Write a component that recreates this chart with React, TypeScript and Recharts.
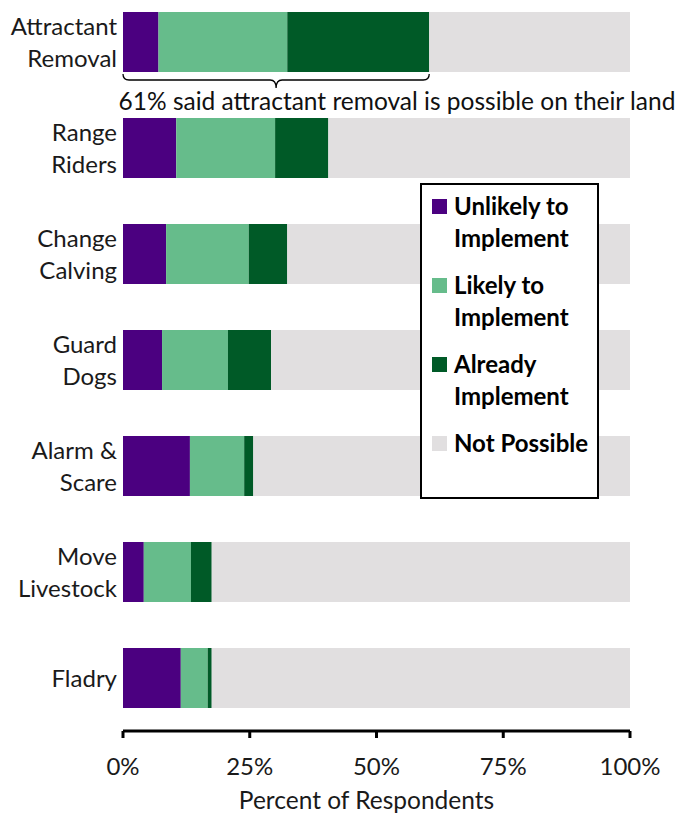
import { BarChart, Bar, XAxis, YAxis, LabelList } from 'recharts'

const categories = [
    'Attractant\nRemoval',
    'Range\nRiders',
    'Change\nCalving',
    'Guard\nDogs',
    'Alarm &\nScare',
    'Move\nLivestock',
    'Fladry',
]
const unlikely = [7.0, 10.5, 8.5, 7.7, 13.2, 4.1, 11.4]
const likely = [25.4, 19.5, 16.3, 13.0, 10.7, 9.3, 5.3]
const already = [28.0, 10.5, 7.6, 8.5, 1.8, 4.1, 0.8]
const notPossible = [39.6, 59.5, 67.6, 70.8, 74.3, 82.5, 82.5]
const xTicks = [0, 25, 50, 75, 100]
const note = '61% said attractant removal is possible on their land'

const series = [
    { key: 'unlikely', name: 'Unlikely to\nImplement', color: '#4b0080' },
    { key: 'likely', name: 'Likely to\nImplement', color: '#66bc8b' },
    { key: 'already', name: 'Already\nImplement', color: '#005a27' },
    { key: 'notPossible', name: 'Not Possible', color: '#e1dfe0' },
]

const data = categories.map((c, i) => ({
    name: c,
    unlikely: unlikely[i],
    likely: likely[i],
    already: already[i],
    notPossible: notPossible[i],
}))

const FONT = 'Lato, "Open Sans", sans-serif'

const CategoryTick = ({ x, y, payload }: any) => {
    const lines = String(payload.value).split('\n')
    const lh = 32
    const start = y - ((lines.length - 1) * lh) / 2
    return (
        <text x={x} y={start} textAnchor="end" fontFamily={FONT} fontSize={24} fill="#1a1a1a">
            {lines.map((l, i) => (
                <tspan key={i} x={x} y={start + i * lh} dy="0.36em">{l}</tspan>
            ))}
        </text>
    )
}

// brace + note under the first bar, sized from the bar segment the library drew
const BraceLabel = (props: any) => {
    const { x, y, width, height, index, value } = props
    if (index !== 0) return null
    const total = unlikely[0] + likely[0] + already[0]
    const x0 = Number(x)
    const x1 = x0 + (Number(width) / Number(value)) * total
    const top = Number(y) + Number(height) + 2
    const mid = (x0 + x1) / 2
    const r = 6
    const d = `M${x0},${top} q0,${r} ${r},${r} L${mid - r},${top + r} q${r},0 ${r},${r + 2} q0,-${r + 2} ${r},-${r + 2} L${x1 - r},${top + r} q${r},0 ${r},-${r}`
    return (
        <g>
            <path d={d} fill="none" stroke="#000" strokeWidth={1.3} />
            <text x={397} y={top + 36} textAnchor="middle" fontFamily={FONT} fontSize={24.5} fill="#111">
                {note}
            </text>
        </g>
    )
}

const LegendBox = () => (
    <div
        style={{
            position: 'absolute',
            left: 420,
            top: 183,
            width: 179,
            height: 316,
            border: '2px solid #000',
            background: '#fff',
            boxSizing: 'border-box',
            fontFamily: FONT,
            fontWeight: 700,
            fontSize: 24,
            color: '#000',
            padding: '5px 0 0 10px',
        }}
    >
        {series.map(s => (
            <div key={s.key} style={{ display: 'flex', alignItems: 'flex-start', marginBottom: 15 }}>
                <div style={{ width: 15, height: 15, background: s.color, marginTop: 9, marginRight: 7, flexShrink: 0 }} />
                <div style={{ lineHeight: '32px', whiteSpace: 'pre' }}>{s.name}</div>
            </div>
        ))}
    </div>
)

export default function App() {
    return (
        <div style={{ position: 'relative', width: 681, height: 814, overflow: 'hidden', background: '#fff' }}>
            <style>{'body{margin:0}'}</style>
            <div style={{ position: 'absolute', left: 0, top: -11 }}>
                <BarChart
                    width={681}
                    height={825}
                    data={data}
                    layout="vertical"
                    margin={{ top: 0, right: 51, left: 8, bottom: 0 }}
                    barCategoryGap={23}
                >
                    <XAxis
                        type="number"
                        domain={[0, 100]}
                        ticks={xTicks}
                        tickFormatter={(v) => `${v}%`}
                        height={83}
                        axisLine={{ stroke: '#000', strokeWidth: 3 }}
                        tickLine={{ stroke: '#000', strokeWidth: 3 }}
                        tickSize={7}
                        tickMargin={20}
                        tick={{ fill: '#1a1a1a', fontSize: 24, fontFamily: FONT }}
                        label={{ value: 'Percent of Respondents', position: 'insideBottom', offset: 5, dx: -10, fill: '#1a1a1a', fontSize: 24.5, fontFamily: FONT }}
                    />
                    <YAxis
                        type="category"
                        dataKey="name"
                        width={115}
                        axisLine={false}
                        tickLine={false}
                        tickMargin={0}
                        tick={<CategoryTick />}
                        interval={0}
                    />
                    {series.map(s => (
                        <Bar key={s.key} dataKey={s.key} stackId="a" fill={s.color} barSize={60} isAnimationActive={false}>
                            {s.key === 'unlikely' && <LabelList dataKey="unlikely" content={<BraceLabel />} />}
                        </Bar>
                    ))}
                </BarChart>
            </div>
            <LegendBox />
        </div>
    )
}
